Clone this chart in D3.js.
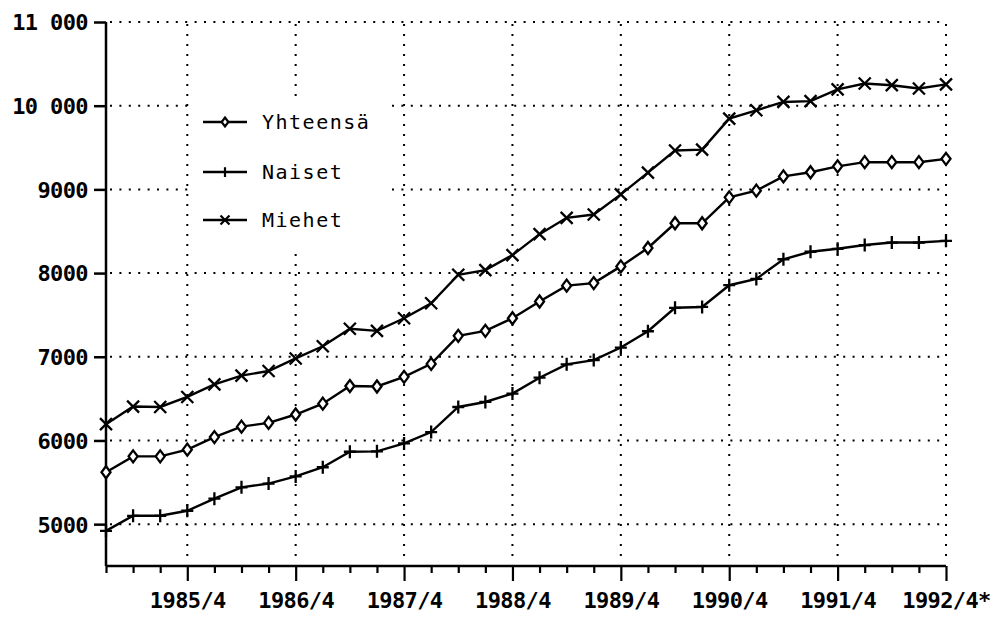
<!DOCTYPE html>
<html>
<head>
<meta charset="utf-8">
<script src="https://cdn.jsdelivr.net/npm/d3@7/dist/d3.min.js"></script>
<style>
  html, body { margin: 0; padding: 0; background: #fff; }
  svg { display: block; }
  .axislab { font-family: "DejaVu Sans Mono", monospace; font-weight: bold; font-size: 22px; fill: #000; }
  .leglab { font-family: "DejaVu Sans Mono", monospace; font-size: 20px; fill: #000; }
</style>
</head>
<body>
<svg id="chart" width="997" height="618"></svg>
<script>
// ---- data ----
const quarters = [
  "1985/1","1985/2","1985/3","1985/4",
  "1986/1","1986/2","1986/3","1986/4",
  "1987/1","1987/2","1987/3","1987/4",
  "1988/1","1988/2","1988/3","1988/4",
  "1989/1","1989/2","1989/3","1989/4",
  "1990/1","1990/2","1990/3","1990/4",
  "1991/1","1991/2","1991/3","1991/4",
  "1992/1","1992/2","1992/3","1992/4"
];
const yhteensa = [5620, 5810, 5810, 5890, 6040, 6165, 6210, 6310, 6440, 6650, 6645, 6760, 6915, 7250, 7310, 7460,
                  7660, 7850, 7880, 8080, 8300, 8595, 8595, 8905, 8985, 9155, 9205, 9275, 9325, 9325, 9325, 9365];
const naiset   = [4920, 5100, 5100, 5160, 5305, 5440, 5485, 5570, 5680, 5865, 5870, 5965, 6100, 6400, 6460, 6560,
                  6750, 6910, 6960, 7110, 7305, 7585, 7595, 7855, 7930, 8165, 8255, 8290, 8335, 8365, 8365, 8385];
const miehet   = [6195, 6405, 6400, 6520, 6670, 6775, 6830, 6980, 7125, 7335, 7310, 7460, 7640, 7980, 8035, 8215,
                  8465, 8660, 8700, 8940, 9200, 9465, 9475, 9845, 9945, 10045, 10055, 10195, 10265, 10245, 10205, 10255];
const seriesNames = ["Yhteensä", "Naiset", "Miehet"];
const yTickValues = [5000, 6000, 7000, 8000, 9000, 10000, 11000];
const yTickLabels = ["5000", "6000", "7000", "8000", "9000", "10 000", "11 000"];
const xTickLabels = ["1985/4", "1986/4", "1987/4", "1988/4", "1989/4", "1990/4", "1991/4", "1992/4*"];

// ---- layout ----
const svg = d3.select("#chart");
const pL = 106, pR = 946, pT = 22, pB = 566;

const x = d3.scalePoint().domain(quarters).range([pL, pR]);
const y = d3.scaleLinear().domain([4500, 11000]).range([pB, pT]);

const yearEnds = quarters.filter(q => q.endsWith("/4"));

// ---- grid ----
const grid = svg.append("g");
grid.selectAll("line.h").data(yTickValues).enter().append("line")
  .attr("x1", pL + 4).attr("x2", pR)
  .attr("y1", d => y(d)).attr("y2", d => y(d))
  .attr("stroke", "#000").attr("stroke-width", 2).attr("stroke-dasharray", "2,7.4");
grid.selectAll("line.v").data(yearEnds).enter().append("line")
  .attr("x1", d => x(d)).attr("x2", d => x(d))
  .attr("y1", y(11000) + 2).attr("y2", d => d === quarters[quarters.length - 1] ? pB - 3 : y(4620))
  .attr("stroke", "#000").attr("stroke-width", 2).attr("stroke-dasharray", "2,8");

// ---- axes ----
const yAxis = d3.axisLeft(y).tickValues(yTickValues).tickSize(12)
  .tickFormat((d, i) => yTickLabels[i]).tickPadding(6);
const gy = svg.append("g").attr("transform", `translate(${pL},0)`).call(yAxis);
gy.select(".domain").attr("d", `M0,${pT}V${pB}`).attr("stroke-width", 2.5);
gy.selectAll(".tick line").attr("stroke-width", 2.5);
gy.selectAll(".tick text").attr("class", "axislab").attr("letter-spacing", "-0.6px").attr("dy", "0.36em");

const xAxis = d3.axisBottom(x).tickSize(7).tickFormat(() => "");
const gx = svg.append("g").attr("transform", `translate(0,${pB})`).call(xAxis);
gx.select(".domain").attr("d", `M${pL},0H${pR}`).attr("stroke-width", 2.5);
gx.selectAll(".tick line").attr("stroke-width", 2.2)
  .attr("y2", d => d.endsWith("/4") ? 15 : 7);
gx.selectAll(".tick")
  .filter(d => d.endsWith("/4"))
  .append("text")
  .attr("class", "axislab")
  .attr("letter-spacing", "-0.6px")
  .attr("text-anchor", "middle")
  .attr("y", 42)
  .text(d => xTickLabels[yearEnds.indexOf(d)]);

// ---- markers ----
function diamond(s) { return `M0,${-6*s}L${4.5*s},0L0,${6*s}L${-4.5*s},0Z`; }
function plus(s) { return `M${-6*s},0H${6*s}M0,${-6.5*s}V${6.5*s}`; }
function cross(s) { return `M${-6*s},${-6*s}L${6*s},${6*s}M${-6*s},${6*s}L${6*s},${-6*s}`; }
const markers = [diamond, plus, cross];
const fills = ["#fff", "none", "none"];

const line = d3.line().x((d, i) => x(quarters[i])).y(d => y(d)).curve(d3.curveLinear);
const allSeries = [yhteensa, naiset, miehet];

allSeries.forEach((vals, k) => {
  const g = svg.append("g");
  g.append("path").datum(vals).attr("d", line)
    .attr("fill", "none").attr("stroke", "#000").attr("stroke-width", 2.4);
  g.selectAll("path.m").data(vals).enter().append("path")
    .attr("transform", (d, i) => `translate(${x(quarters[i])},${y(d)})`)
    .attr("d", markers[k](1))
    .attr("fill", fills[k]).attr("stroke", "#000").attr("stroke-width", 2.3);
});

// ---- legend ----
const lg = svg.append("g");
lg.append("rect").attr("x", 192).attr("y", 98).attr("width", 193).attr("height", 148).attr("fill", "#fff");
const legY = [122, 172, 220];
seriesNames.forEach((name, k) => {
  lg.append("line").attr("x1", 203).attr("x2", 247).attr("y1", legY[k]).attr("y2", legY[k])
    .attr("stroke", "#000").attr("stroke-width", 2.4);
  lg.append("path").attr("transform", `translate(225,${legY[k]})`).attr("d", markers[k](0.75))
    .attr("fill", fills[k]).attr("stroke", "#000").attr("stroke-width", 2.2);
  lg.append("text").attr("class", "leglab").attr("x", 262).attr("y", legY[k]).attr("dy", "0.36em")
    .attr("letter-spacing", "1.5px").text(name);
});
</script>
</body>
</html>
